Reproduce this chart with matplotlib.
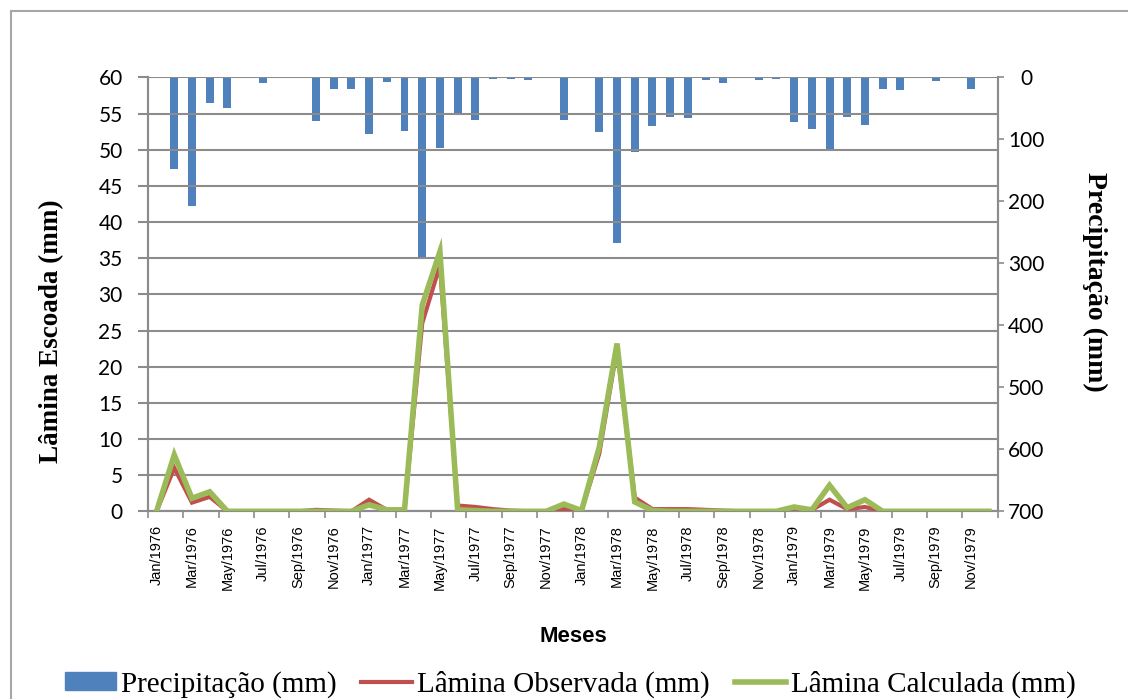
import matplotlib
matplotlib.use("Agg")
import matplotlib.pyplot as plt
from matplotlib.patches import Rectangle
from matplotlib.lines import Line2D
import numpy as np

month_names = ["Jan", "Feb", "Mar", "Apr", "May", "Jun", "Jul", "Aug", "Sep", "Oct", "Nov", "Dec"]
years = [1976, 1977, 1978, 1979]
months = [f"{m}/{y}" for y in years for m in month_names]

precipitacao = [0, 147, 207, 42, 50, 0, 9, 0, 0, 70, 18, 18,
                91, 8, 87, 289, 114, 61, 68, 3, 3, 5, 0, 69,
                0, 88, 267, 120, 78, 64, 65, 5, 9, 0, 5, 3,
                72, 84, 115, 64, 76, 18, 21, 0, 6, 0, 18, 0]
observada = [0, 6.0, 1.2, 2.0, 0, 0, 0, 0, 0, 0.2, 0.1, 0,
             1.6, 0.2, 0.2, 26.0, 34.0, 0.8, 0.6, 0.3, 0.1, 0, 0, 0.3,
             0.1, 8.0, 22.5, 1.9, 0.3, 0.3, 0.3, 0.2, 0.1, 0, 0, 0,
             0.4, 0.2, 1.6, 0.3, 0.6, 0, 0, 0, 0, 0, 0, 0]
calculada = [0, 7.8, 1.8, 2.7, 0, 0, 0, 0, 0, 0, 0, 0,
             0.9, 0.2, 0.2, 28.5, 35.9, 0.2, 0.1, 0, 0, 0, 0, 1.0,
             0.1, 8.9, 23.2, 1.3, 0.1, 0, 0, 0, 0, 0, 0, 0,
             0.6, 0.2, 3.6, 0.5, 1.6, 0, 0, 0, 0, 0, 0, 0]

left_ticks = list(range(0, 61, 5))
right_ticks = list(range(0, 701, 100))

BLUE = "#4F81BD"
RED = "#C0504D"
GREEN = "#9BBB59"
GRID = "#8C8C8C"

fig = plt.figure(figsize=(11.28, 6.99), dpi=100)
fig.patches.append(Rectangle((11 / 1128, -0.01), 1.1, 1 - 11 / 699 + 0.01,
                             transform=fig.transFigure, fill=False,
                             edgecolor="#A6A6A6", linewidth=1.5))

ax = fig.add_axes([147.7 / 1128, 187.7 / 699, 850.1 / 1128, 433.9 / 699])
ax2 = ax.twinx()
x = np.arange(len(months))

# precipitation on the secondary (inverted) axis
ax2.bar(x, precipitacao, width=0.45, color=BLUE, zorder=2)
ax2.set_ylim(700, 0)
ax2.set_yticks(right_ticks)
ax2.tick_params(axis="y", direction="out", length=4.5, width=1.2, color=GRID,
                labelsize=15, pad=16)
for lab in ax2.get_yticklabels():
    lab.set_horizontalalignment("center")
    lab.set_fontfamily("Lato")

# lines on primary axis, drawn above the bars
ax.set_zorder(ax2.get_zorder() + 1)
ax.patch.set_visible(False)
ax.plot(x, observada, color=RED, linewidth=3, solid_joinstyle="miter", zorder=3)
ax.plot(x, calculada, color=GREEN, linewidth=4, solid_joinstyle="miter", zorder=4)
ax.set_ylim(0, 60)
ax.set_xlim(-0.5, len(months) - 0.5)
ax.set_yticks(left_ticks)
ax.grid(axis="y", color=GRID, linewidth=1.5, zorder=0)
ax.set_axisbelow(True)
ax.tick_params(axis="y", direction="out", length=7, width=1.5, color=GRID,
               labelsize=15, pad=11)

ax.set_xticks(x[::2])
ax.set_xticklabels(months[::2], rotation=90, fontsize=10.5)
ax.tick_params(axis="x", length=0, pad=10)
ax.set_xticks(np.arange(-0.5, len(months), 2), minor=True)
ax.tick_params(axis="x", which="minor", direction="out", length=5, width=1.2, color=GRID)

for a in (ax, ax2):
    a.spines["top"].set_visible(False)
    for s in ("left", "right", "bottom"):
        a.spines[s].set_color(GRID)
        a.spines[s].set_linewidth(1.5)

for lab in ax.get_yticklabels():
    lab.set_fontfamily("Lato")
for lab in ax.get_xticklabels():
    lab.set_fontfamily("Liberation Sans")

serif = "Liberation Serif"
fig.text(52 / 1128, 1 - 331 / 699, "Lâmina Escoada (mm)", rotation=90,
         ha="center", va="center", fontsize=19.5, fontweight="bold", family=serif)
fig.text(1095 / 1128, 1 - 282 / 699, "Precipitação (mm)", rotation=-90,
         ha="center", va="center", fontsize=20, fontweight="bold", family=serif)
fig.text(573 / 1128, 1 - 636 / 699, "Meses", ha="center", va="center",
         fontsize=16, fontweight="bold", family="Liberation Sans")

handles = [Rectangle((0, 0), 1, 1, color=BLUE),
           Line2D([0], [0], color=RED, linewidth=3),
           Line2D([0], [0], color=GREEN, linewidth=4)]
labels = ["Precipitação (mm)", "Lâmina Observada (mm)", "Lâmina Calculada (mm)"]
fig.legend(handles, labels, loc="center", bbox_to_anchor=(570 / 1128, 1 - 684 / 699),
           ncol=3, frameon=False, prop={"family": serif, "size": 21},
           handlelength=1.75, handletextpad=0.17, columnspacing=0.85,
           handleheight=0.55)

fig.savefig("out.png", dpi=100)
